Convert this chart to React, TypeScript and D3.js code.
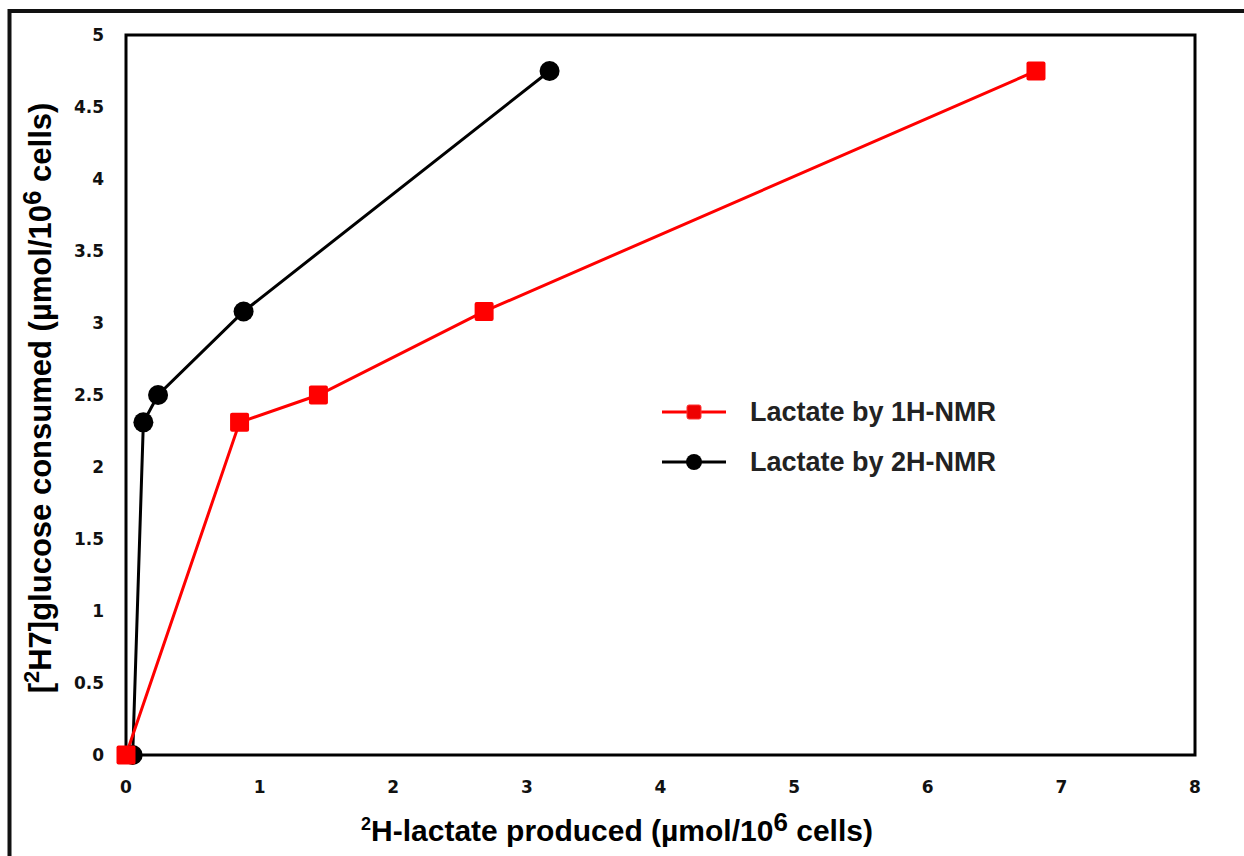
import React from "react";
import * as d3 from "d3";

const series1H = [
  { x: 0.0, y: 0.0 },
  { x: 0.85, y: 2.31 },
  { x: 1.44, y: 2.5 },
  { x: 2.68, y: 3.08 },
  { x: 6.81, y: 4.75 },
];
const series2H = [
  { x: 0.05, y: 0.0 },
  { x: 0.13, y: 2.31 },
  { x: 0.24, y: 2.5 },
  { x: 0.88, y: 3.08 },
  { x: 3.17, y: 4.75 },
];
const xTicks = [0, 1, 2, 3, 4, 5, 6, 7, 8];
const yTicks = [0, 0.5, 1, 1.5, 2, 2.5, 3, 3.5, 4, 4.5, 5];
const legendLabels = ["Lactate by 1H-NMR", "Lactate by 2H-NMR"];

const W = 1244;
const H = 856;
const plot = { left: 126, right: 1195, top: 35, bottom: 755 };

export default function App() {
  const x = d3.scaleLinear().domain([0, 8]).range([plot.left, plot.right]);
  const y = d3.scaleLinear().domain([0, 5]).range([plot.bottom, plot.top]);
  const line = d3
    .line<{ x: number; y: number }>()
    .x((d) => x(d.x))
    .y((d) => y(d.y));
  const tickFont = "'DejaVu Sans', sans-serif";
  const titleFont = "'Liberation Sans', Arial, sans-serif";
  const sq = 19;
  return (
    <svg
      width={W}
      height={H}
      style={{ position: "absolute", left: 0, top: 0, background: "#fff" }}
    >
      <rect x={0} y={0} width={W} height={H} fill="#fff" />
      {/* outer frame */}
      <path d={`M9.5,${H} L9.5,11 L${W},11`} fill="none" stroke="#111" strokeWidth={4} />
      {/* plot box */}
      <rect
        x={plot.left}
        y={plot.top}
        width={plot.right - plot.left}
        height={plot.bottom - plot.top}
        fill="none"
        stroke="#000"
        strokeWidth={3}
      />
      {/* y ticks */}
      {yTicks.map((t) => (
        <text
          key={"y" + t}
          x={104}
          y={y(t)}
          textAnchor="end"
          dominantBaseline="central"
          fontFamily={tickFont}
          fontWeight="bold"
          fontSize={17}
          fill="#111"
        >
          {t}
        </text>
      ))}
      {xTicks.map((t) => (
        <text
          key={"x" + t}
          x={x(t)}
          y={787}
          textAnchor="middle"
          dominantBaseline="central"
          fontFamily={tickFont}
          fontWeight="bold"
          fontSize={17}
          fill="#111"
        >
          {t}
        </text>
      ))}
      {/* series lines */}
      <path d={line(series2H) || ""} fill="none" stroke="#000" strokeWidth={3} />
      <path d={line(series1H) || ""} fill="none" stroke="#f00" strokeWidth={3} />
      {series2H.map((d, i) => (
        <circle key={"c" + i} cx={x(d.x)} cy={y(d.y)} r={10} fill="#000" />
      ))}
      {series1H.map((d, i) => (
        <rect
          key={"s" + i}
          x={x(d.x) - sq / 2}
          y={y(d.y) - sq / 2}
          width={sq}
          height={sq}
          rx={2}
          fill="#f00"
        />
      ))}
      {/* legend */}
      <line x1={662} x2={726} y1={412} y2={412} stroke="#f00" strokeWidth={3} />
      <rect x={694 - 7} y={412 - 7} width={14} height={14} rx={2} fill="#e00" stroke="#f33" strokeWidth={1} />
      <line x1={662} x2={726} y1={462} y2={462} stroke="#000" strokeWidth={3} />
      <circle cx={694} cy={462} r={8} fill="#000" />
      {legendLabels.map((l, i) => (
        <text
          key={l}
          x={750}
          y={412 + i * 50}
          dominantBaseline="central"
          fontFamily={titleFont}
          fontWeight="bold"
          fontSize={27}
          fill="#222"
        >
          {l}
        </text>
      ))}
      {/* x title */}
      <text
        x={617}
        y={841}
        textAnchor="middle"
        fontFamily={titleFont}
        fontWeight="bold"
        fontSize={30}
        fill="#000"
      >
        <tspan fontSize={18} dy={-11}>2</tspan>
        <tspan dy={11}>H-lactate produced (µmol/10</tspan>
        <tspan fontSize={26} dy={-10}>6</tspan>
        <tspan dy={10}> cells)</tspan>
      </text>
      {/* y title */}
      <text
        transform={`translate(51,${(plot.top + plot.bottom) / 2 + 3}) rotate(-90)`}
        textAnchor="middle"
        fontFamily={titleFont}
        fontWeight="bold"
        fontSize={31}
        fill="#000"
      >
        [<tspan fontSize={22} dy={-12}>2</tspan>
        <tspan dy={12}>H7]glucose consumed (µmol/10</tspan>
        <tspan fontSize={26} dy={-10}>6</tspan>
        <tspan dy={10}> cells)</tspan>
      </text>
    </svg>
  );
}
